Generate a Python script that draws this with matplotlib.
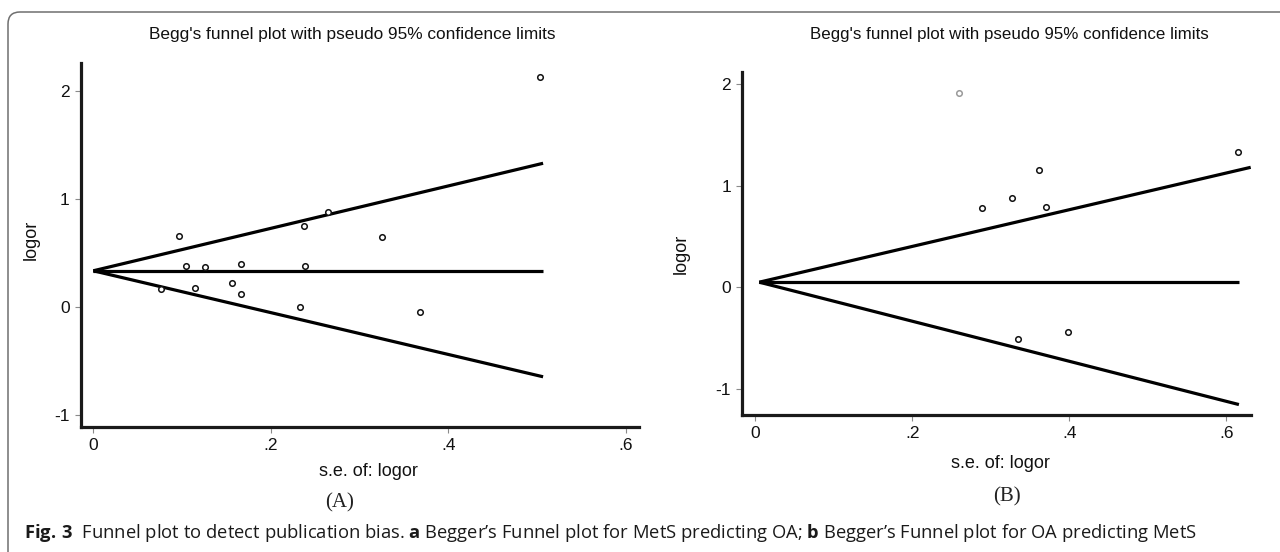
import matplotlib
matplotlib.use("Agg")
import matplotlib.pyplot as plt
from matplotlib.patches import FancyBboxPatch

plt.rcParams['mathtext.fontset'] = 'custom'
plt.rcParams['mathtext.rm'] = 'Open Sans'
plt.rcParams['mathtext.bf'] = 'Open Sans:bold'

W, H = 1280, 552
STATA_FONT = ['Liberation Sans Narrow', 'Liberation Sans', 'DejaVu Sans']

# panel A: MetS predicting OA
se_a = [0.0758, 0.097, 0.104, 0.115, 0.1255, 0.156, 0.166, 0.167,
        0.2335, 0.238, 0.239, 0.265, 0.325, 0.368, 0.5035]
logor_a = [0.161, 0.657, 0.377, 0.176, 0.368, 0.219, 0.395, 0.115,
           0.0, 0.744, 0.377, 0.88, 0.648, -0.052, 2.13]
# pseudo 95% limits: apex and end points
limit_se_a = [0.0, 0.507]
center_a = [0.333, 0.333]
upper_a = [0.333, 1.328]
lower_a = [0.333, -0.648]

# panel B: OA predicting MetS
se_b = [0.26, 0.289, 0.3267, 0.335, 0.3616, 0.371, 0.399, 0.615]
logor_b = [1.918, 0.783, 0.879, -0.51, 1.158, 0.787, -0.441, 1.33]
faded_b = [True, False, False, False, False, False, False, False]
center_se_b = [0.0053, 0.616]
center_b = [0.049, 0.049]
upper_se_b = [0.0053, 0.631]
upper_b = [0.049, 1.182]
lower_se_b = [0.0053, 0.616]
lower_b = [0.049, -1.158]

x_ticks = [0, 0.2, 0.4, 0.6]
x_labels = ['0', '.2', '.4', '.6']
y_ticks = [-1, 0, 1, 2]
y_labels = ['-1', '0', '1', '2']

fig = plt.figure(figsize=(W / 100, H / 100), dpi=100)

# rounded frame around the figure (cut off at right and bottom)
frame = FancyBboxPatch((0.08, -0.3), 13.5, 5.70, boxstyle='round,pad=0,rounding_size=0.12',
                       transform=fig.dpi_scale_trans, fill=False, edgecolor='#6f6f6f',
                       linewidth=1.1)
fig.patches.append(frame)


def style_axes(ax, xlim, ylim):
    ax.set_xlim(xlim)
    ax.set_ylim(ylim)
    for side in ['top', 'right']:
        ax.spines[side].set_visible(False)
    for side in ['left', 'bottom']:
        ax.spines[side].set_linewidth(2.3)
        ax.spines[side].set_color('#1a1a1a')
    ax.set_xticks(x_ticks)
    ax.set_xticklabels(x_labels)
    ax.set_yticks(y_ticks)
    ax.set_yticklabels(y_labels)
    ax.tick_params(length=4, width=0.8, color='#8a8a8a', pad=4, labelsize=12.5)
    for lab in ax.get_xticklabels() + ax.get_yticklabels():
        lab.set_family(STATA_FONT)
        lab.set_color('#111111')
    ax.patch.set_alpha(0)


line_kw = dict(color='black', linewidth=2.3, solid_capstyle='butt')
pt_kw = dict(marker='o', linestyle='none', markersize=4.0, markerfacecolor='white',
             markeredgewidth=1.1)

# ---- panel A ----
ax1 = fig.add_axes([80.7 / W, 1 - 426.7 / H, 558.2 / W, 363.7 / H])
style_axes(ax1, (-0.0142, 0.615), (-1.11, 2.256))
ax1.plot(limit_se_a, center_a, **line_kw)
ax1.plot(limit_se_a, upper_a, **line_kw)
ax1.plot(limit_se_a, lower_a, **line_kw)
ax1.plot(se_a, logor_a, markeredgecolor='#111111', **pt_kw)

# ---- panel B ----
ax2 = fig.add_axes([742 / W, 1 - 415.3 / H, 508.7 / W, 343.6 / H])
style_axes(ax2, (-0.0167, 0.631), (-1.264, 2.125))
ax2.plot(center_se_b, center_b, **line_kw)
ax2.plot(upper_se_b, upper_b, **line_kw)
ax2.plot(lower_se_b, lower_b, **line_kw)
for s, v, f in zip(se_b, logor_b, faded_b):
    ax2.plot([s], [v], markeredgecolor='#9a9a9a' if f else '#111111', **pt_kw)

title = "Begg's funnel plot with pseudo 95% confidence limits"
txt = dict(family=STATA_FONT, color='#111111')
fig.text(352.5 / W, 1 - 35 / H, title, ha='center', va='center', fontsize=12.4, **txt)
fig.text(1009 / W, 1 - 35 / H, title, ha='center', va='center', fontsize=12.2, **txt)
fig.text(31.6 / W, 1 - 240 / H, 'logor', rotation=90, ha='center', va='center', fontsize=13, **txt)
fig.text(681 / W, 1 - 253.5 / H, 'logor', rotation=90, ha='center', va='center', fontsize=13, **txt)
fig.text(368 / W, 1 - 471.7 / H, 's.e. of: logor', ha='center', va='center', fontsize=13, **txt)
fig.text(1000 / W, 1 - 463.3 / H, 's.e. of: logor', ha='center', va='center', fontsize=13, **txt)

fig.text(340 / W, 1 - 503 / H, '(A)', ha='center', va='center', fontsize=15,
         family=['Liberation Serif', 'DejaVu Serif'], color='#222222')
fig.text(1007 / W, 1 - 496.7 / H, '(B)', ha='center', va='center', fontsize=15,
         family=['Liberation Serif', 'DejaVu Serif'], color='#222222')

caption = (r"$\mathbf{Fig.\,3}$  Funnel plot to detect publication bias. $\mathbf{a}$ "
           "Begger’s Funnel plot for MetS predicting OA; $\\mathbf{b}$ "
           "Begger’s Funnel plot for OA predicting MetS")
fig.text(24 / W, 1 - 538 / H, caption, ha='left', va='baseline', fontsize=13.2,
         family='Open Sans', color='#1a1a1a')

fig.savefig('out.png', dpi=100)
